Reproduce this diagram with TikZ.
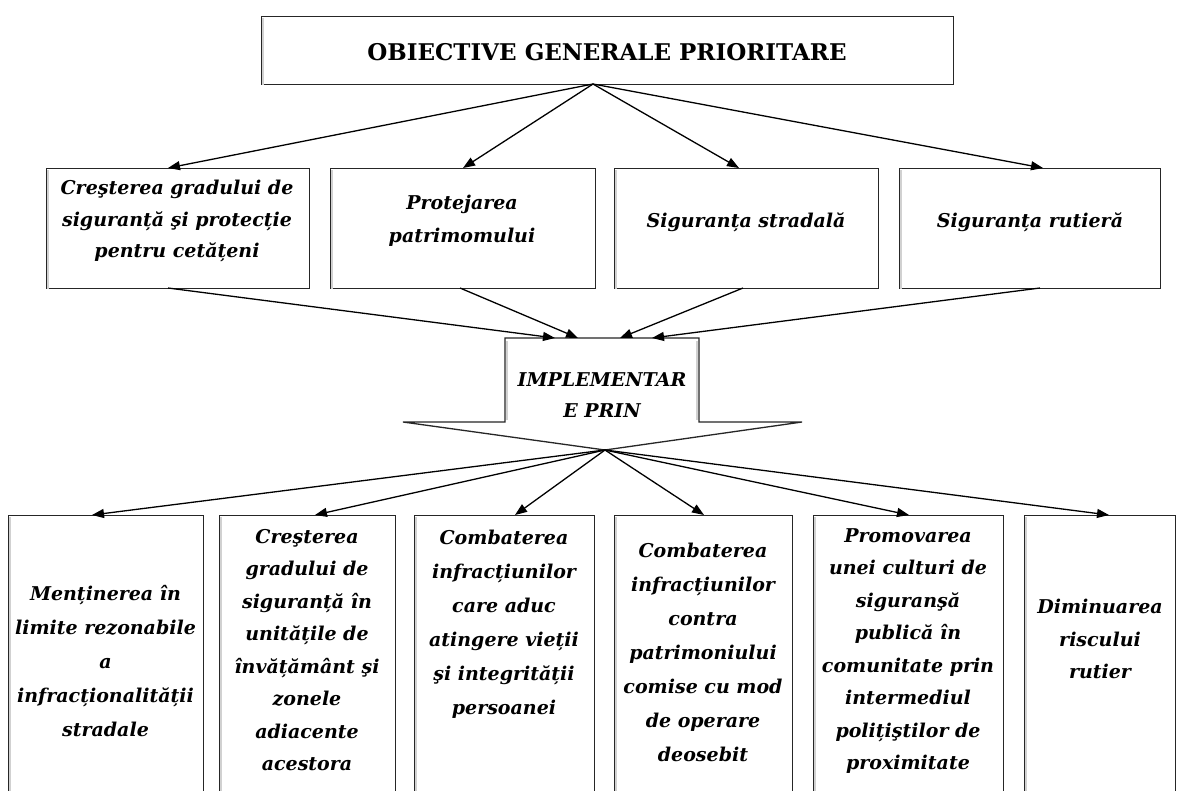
\documentclass[tikz,border=0pt]{standalone}
\usepackage{fontspec}
\setmainfont{DejaVu Serif}
\usetikzlibrary{arrows.meta}
\begin{document}
\begin{tikzpicture}[x=1pt,y=-1pt,
  box/.style={draw=black!85, line width=1.3pt, inner sep=0pt, anchor=north west},
  txt/.style={font=\fontsize{19}{32.5}\selectfont\bfseries\itshape, align=center, inner sep=0pt},
  txtw/.style={font=\fontsize{19}{34}\selectfont\bfseries\itshape, align=center, inner sep=0pt},
  ttl/.style={font=\fontsize{23}{28}\selectfont\bfseries, align=center, inner sep=0pt},
  arr/.style={line width=1.3pt, draw=black, -{Triangle[length=12pt,width=9pt]}},
  edge/.style={draw=black!85, line width=1.3pt, line join=miter},
  shd/.style={draw=black!18, line width=1.6pt}]
\clip (0,0) rectangle (1177,790);
\fill[white] (0,0) rectangle (1177,790);

% top box
\node[box, minimum width=692pt, minimum height=68pt] (top) at (261,16) {};
\node[ttl] (toptxt) at (607,52) {OBIECTIVE GENERALE PRIORITARE};

% middle boxes
\node[box, minimum width=263pt, minimum height=120pt] (m1) at (46,168) {};
\node[box, minimum width=265pt, minimum height=120pt] (m2) at (330,168) {};
\node[box, minimum width=264pt, minimum height=120pt] (m3) at (614,168) {};
\node[box, minimum width=261pt, minimum height=120pt] (m4) at (899,168) {};
\node[font=\fontsize{19}{31.5}\selectfont\bfseries\itshape, align=center, inner sep=0pt] (m1t) at (177,221) {Creşterea gradului de\\siguranță şi protecție\\pentru cetățeni};
\node[txt] (m2t) at (462,221) {Protejarea\\patrimomului};
\node[txt] (m3t) at (746,222) {Siguranța stradală};
\node[txt] (m4t) at (1030,222) {Siguranța rutieră};

% bottom boxes
\node[box, minimum width=195pt, minimum height=320pt] (b1) at (8,515) {};
\node[box, minimum width=176pt, minimum height=320pt] (b2) at (219,515) {};
\node[box, minimum width=180pt, minimum height=320pt] (b3) at (414,515) {};
\node[box, minimum width=178pt, minimum height=320pt] (b4) at (614,515) {};
\node[box, minimum width=190pt, minimum height=320pt] (b5) at (813,515) {};
\node[box, minimum width=151pt, minimum height=320pt] (b6) at (1024,515) {};

\foreach \n in {top,m1,m2,m3,m4,b1,b2,b3,b4,b5,b6}
  \draw[shd] ([xshift=2pt,yshift=-2pt]\n.north west) -- ([xshift=2pt]\n.south west);

\node[txtw] (b1t) at (105.5,661) {Menținerea în\\limite rezonabile\\a\\infracționalității\\stradale};
\node[txt] (b2t) at (307,650) {Creşterea\\gradului de\\siguranță în\\unitățile de\\învățământ şi\\zonele\\adiacente\\acestora};
\node[txtw] (b3t) at (504,624) {Combaterea\\infracțiunilor\\care aduc\\atingere vieții\\şi integrității\\persoanei};
\node[txtw] (b4t) at (703,652) {Combaterea\\infracțiunilor\\contra\\patrimoniului\\comise cu mod\\de operare\\deosebit};
\node[txt] (b5t) at (908,651) {Promovarea\\unei culturi de\\siguranşă\\publică în\\comunitate prin\\intermediul\\polițiştilor de\\proximitate};
\node[txt] (b6t) at (1100,639) {Diminuarea\\riscului\\rutier};

% implementare shape
\coordinate (iL) at (505,338);
\coordinate (iR) at (699,338);
\coordinate (itip) at (605,450);
\draw[shd] (507,341) -- (507,420);
\draw[shd] (697,341) -- (697,420);
\draw[edge] (505,422) -- (iL) -- (iR) -- (699,422) -- (802,422) -- (itip) -- (403,422) -- cycle;
\node[font=\fontsize{19}{31}\selectfont\bfseries\itshape, align=center, inner sep=0pt] (impl) at (602,395) {IMPLEMENTAR\\E PRIN};

% connector points
\coordinate (tout) at (593,84);
\coordinate (m1in) at (168,168);
\coordinate (m2in) at (463,168);
\coordinate (m3in) at (739,168);
\coordinate (m4in) at (1043,168);
\coordinate (m1out) at (168,288);
\coordinate (m2out) at (460,288);
\coordinate (m3out) at (743,288);
\coordinate (m4out) at (1040,288);
\coordinate (i1) at (555,338);
\coordinate (i2) at (578,338);
\coordinate (i3) at (620,338);
\coordinate (i4) at (652,338);
\coordinate (b1in) at (92,515);
\coordinate (b2in) at (315,515);
\coordinate (b3in) at (515,515);
\coordinate (b4in) at (704,515);
\coordinate (b5in) at (909,515);
\coordinate (b6in) at (1109,515);

\foreach \t in {m1in,m2in,m3in,m4in} \draw[arr] (tout) -- (\t);
\draw[arr] (m1out) -- (i1);
\draw[arr] (m2out) -- (i2);
\draw[arr] (m3out) -- (i3);
\draw[arr] (m4out) -- (i4);
\foreach \t in {b1in,b2in,b3in,b4in,b5in,b6in} \draw[arr] (itip) -- (\t);
\end{tikzpicture}
\end{document}
